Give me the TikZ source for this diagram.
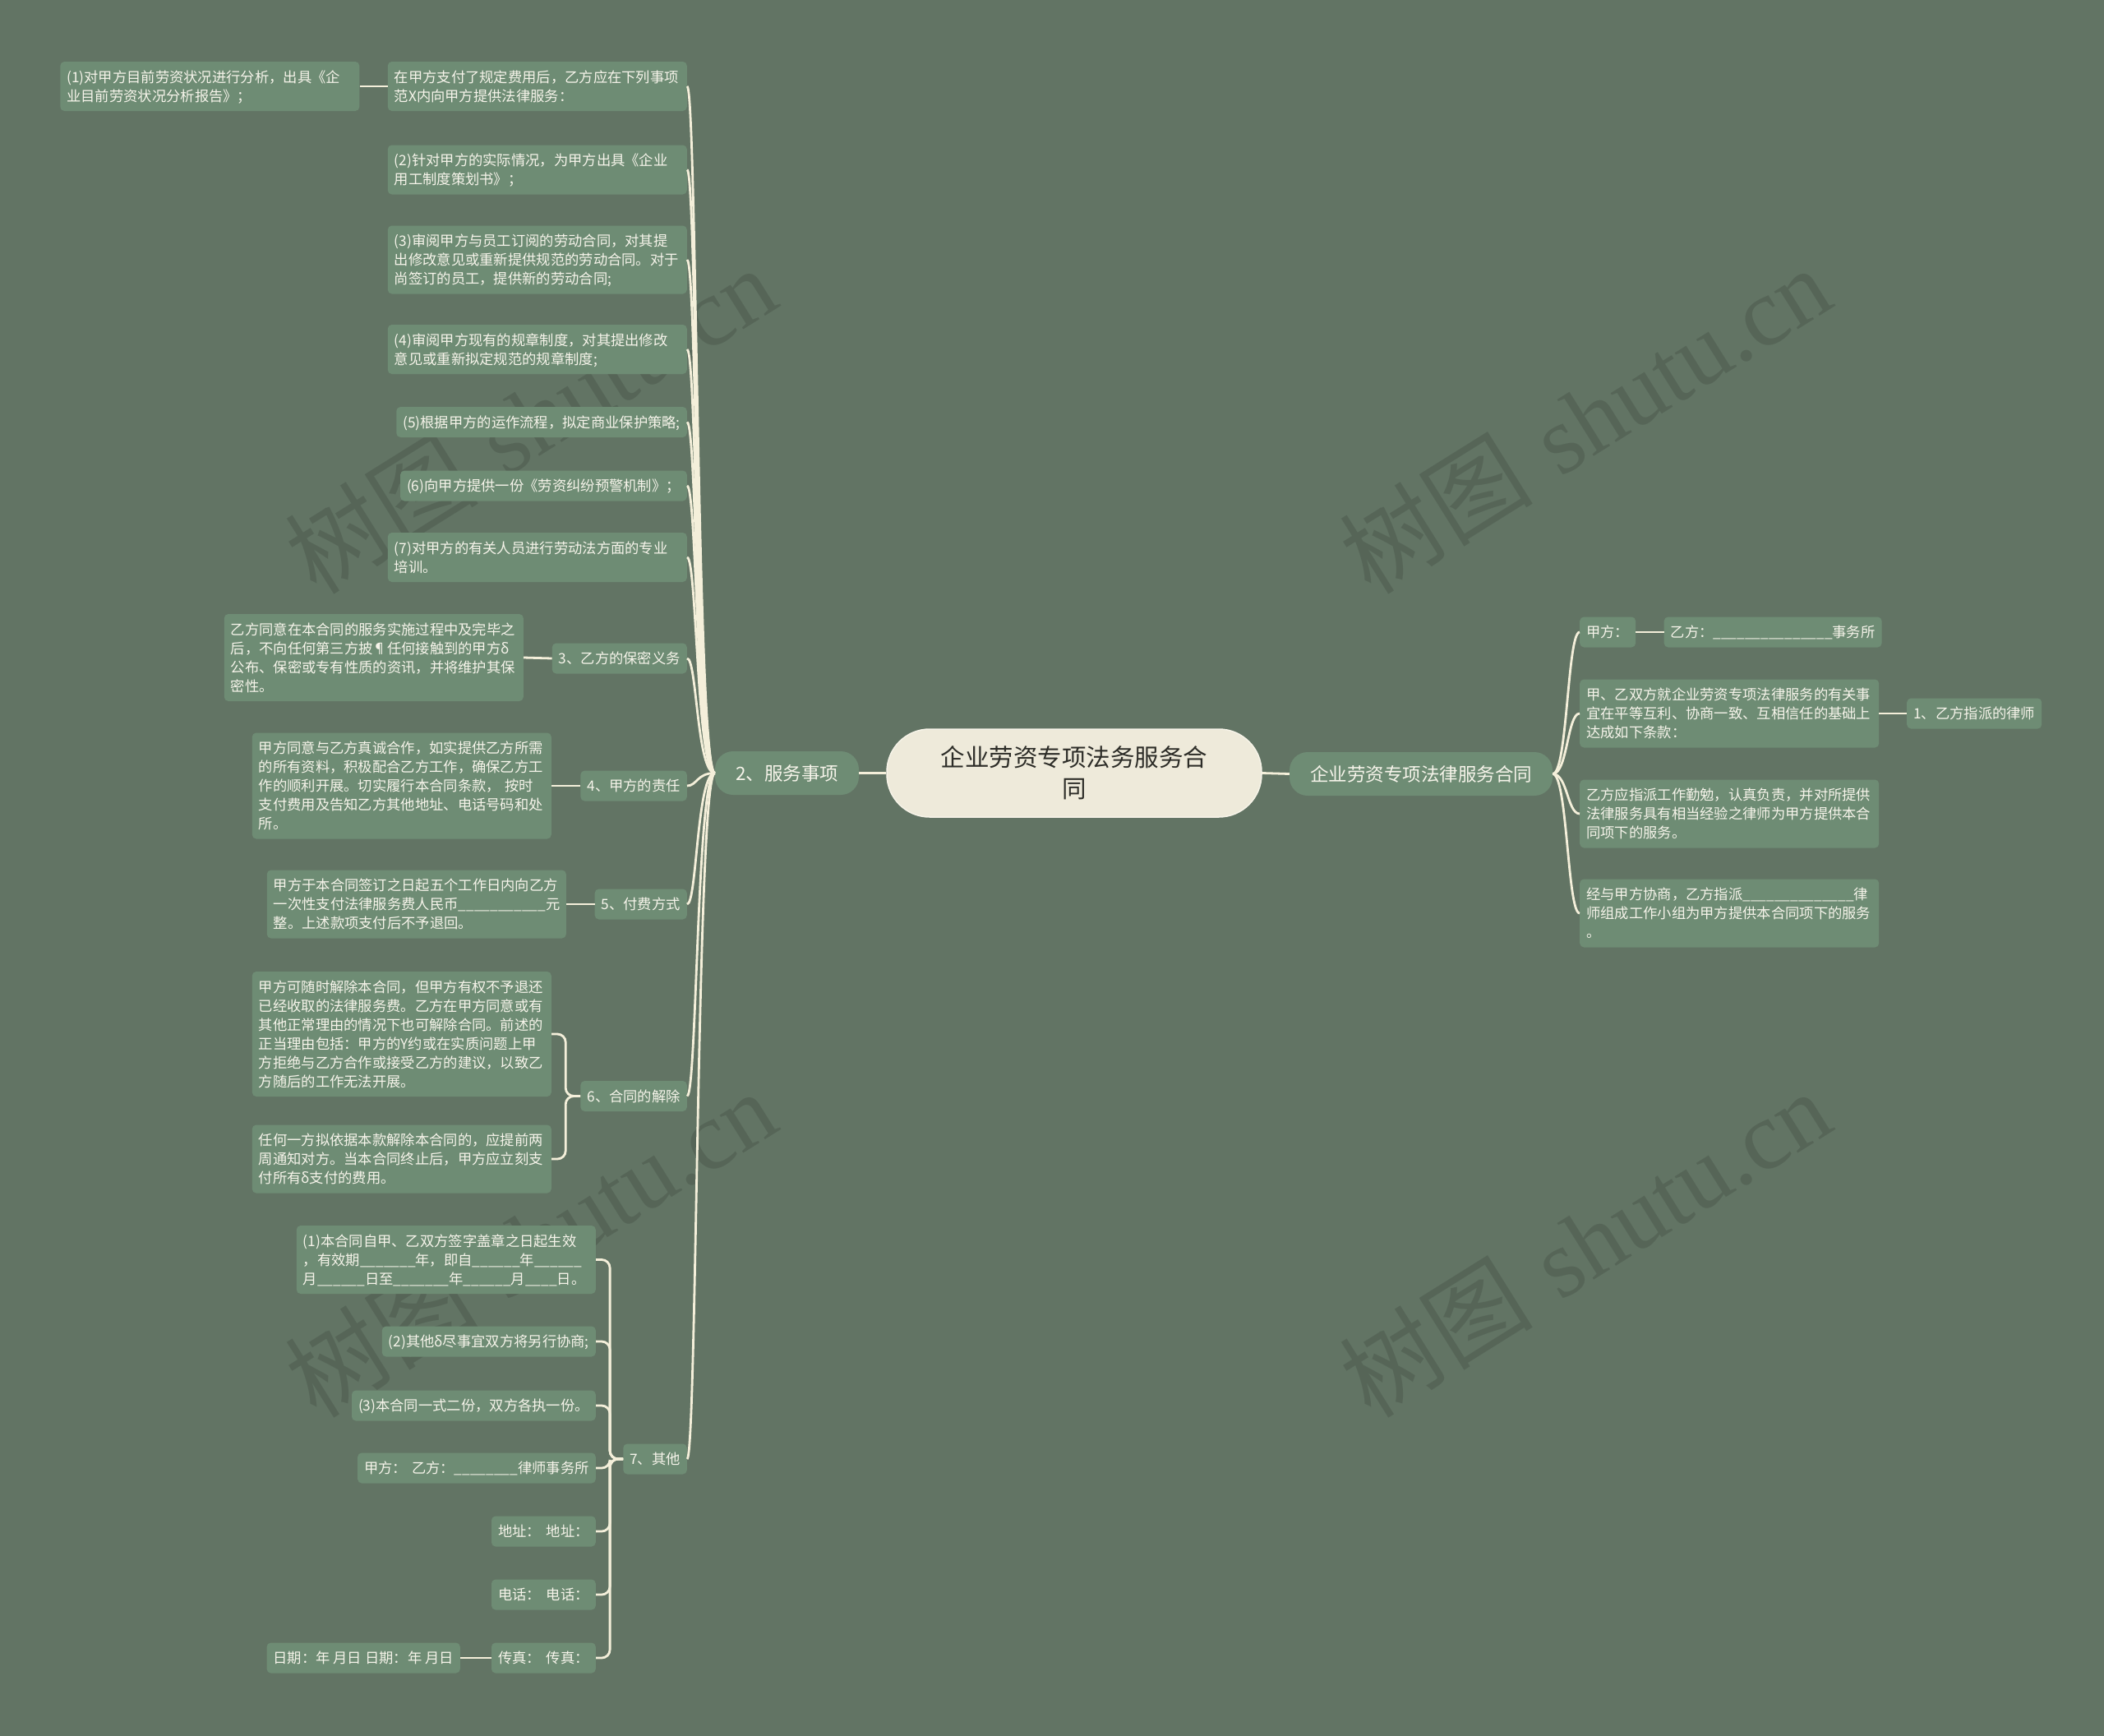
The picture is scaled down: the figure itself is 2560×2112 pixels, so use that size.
\documentclass[tikz,border=0pt]{standalone}
\usepackage{fontspec}
\newfontfamily\cjk{Noto Sans CJK SC}
\newfontfamily\wmserif{Liberation Serif}
\ExplSyntaxOn
\NewDocumentCommand\us{m}{\prg_replicate:nn {#1} {\textunderscore}}
\ExplSyntaxOff
\newcommand\lstrut{\rule[-4.6pt]{0pt}{23pt}}
\definecolor{bgc}{RGB}{98,116,100}
\definecolor{nfill}{RGB}{110,140,116}
\definecolor{ntext}{RGB}{246,244,234}
\definecolor{linec}{RGB}{244,239,218}
\definecolor{cfill}{RGB}{238,234,218}
\definecolor{cborder}{RGB}{246,243,232}
\definecolor{ctext}{RGB}{45,45,40}
\tikzset{
  conn/.style={draw=linec, line width=2.8pt},
  box/.style={fill=nfill, rounded corners=5pt, text=ntext, inner xsep=8pt, inner ysep=7pt, align=left,
    font=\cjk\fontsize{17.3}{23}\selectfont, execute at begin node=\lstrut, execute at end node=\lstrut},
  wbox/.style={box, text width=348pt},
  mainnode/.style={fill=nfill, rounded corners=22pt, text=ntext, inner xsep=25pt, minimum height=53pt,
    font=\cjk\fontsize{22.5}{28}\selectfont},
  rootnode/.style={fill=cfill, draw=cborder, line width=1.5pt, rounded corners=52pt, text=ctext, align=center,
    minimum width=456pt, minimum height=107pt, font=\cjk\fontsize{29.5}{38}\selectfont},
  wm/.style={text=black, opacity=0.12, font=\fontsize{118}{118}\selectfont, rotate=32, inner sep=0pt},
}
\newcommand\lc[2]{\draw[conn] (#1.west) .. controls +(-22,0) and +(12,0) .. (#2.east);}
\newcommand\rc[2]{\draw[conn] (#1.east) .. controls +(18,0) and +(-15,0) .. (#2.west);}
\begin{document}
\begin{tikzpicture}[x=1pt,y=-1pt]
\fill[bgc] (0,0) rectangle (2560,2112);
\useasboundingbox (0,0) rectangle (2560,2112);

% watermarks
\node[wm] (wm1) at (645,510) {{\cjk 树图} {\wmserif shutu.cn}};
\node[wm] (wm2) at (1928,510) {{\cjk 树图} {\wmserif shutu.cn}};
\node[wm] (wm3) at (645,1512) {{\cjk 树图} {\wmserif shutu.cn}};
\node[wm] (wm4) at (1928,1512) {{\cjk 树图} {\wmserif shutu.cn}};

% root and main branches
\node[rootnode] (C) at (1307,940.5) {企业劳资专项法务服务合\\同};
\node[mainnode] (A0) at (957.5,940.5) {2、服务事项};
\node[mainnode] (R0) at (1729,941.5) {企业劳资专项法律服务合同};

% left: service items
\node[wbox, anchor=east] (A1) at (836,105) {在甲方支付了规定费用后，乙方应在下列事项\\范X内向甲方提供法律服务：};
\node[wbox, anchor=east] (A1a) at (437.5,105) {(1)对甲方目前劳资状况进行分析，出具《企\\业目前劳资状况分析报告》；};
\node[wbox, anchor=east] (A2) at (836,206.5) {(2)针对甲方的实际情况，为甲方出具《企业\\用工制度策划书》；};
\node[wbox, anchor=east] (A3) at (836,316) {(3)审阅甲方与员工订阅的劳动合同，对其提\\出修改意见或重新提供规范的劳动合同。对于\\尚签订的员工，提供新的劳动合同;};
\node[wbox, anchor=east] (A4) at (836,425) {(4)审阅甲方现有的规章制度，对其提出修改\\意见或重新拟定规范的规章制度;};
\node[box, anchor=east] (A5) at (836,513.5) {(5)根据甲方的运作流程，拟定商业保护策略;};
\node[box, anchor=east] (A6) at (836,591) {(6)向甲方提供一份《劳资纠纷预警机制》；};
\node[wbox, anchor=east] (A7) at (836,678) {(7)对甲方的有关人员进行劳动法方面的专业\\培训。};

\node[box, anchor=east] (B3) at (836,801) {3、乙方的保密义务};
\node[wbox, anchor=east] (B3a) at (637,800) {乙方同意在本合同的服务实施过程中及完毕之\\后，不向任何第三方披¶任何接触到的甲方δ\\公布、保密或专有性质的资讯，并将维护其保\\密性。};
\node[box, anchor=east] (B4) at (836,956) {4、甲方的责任};
\node[wbox, anchor=east] (B4a) at (671,956) {甲方同意与乙方真诚合作，如实提供乙方所需\\的所有资料，积极配合乙方工作，确保乙方工\\作的顺利开展。切实履行本合同条款， 按时\\支付费用及告知乙方其他地址、电话号码和处\\所。};
\node[box, anchor=east] (B5) at (836,1100) {5、付费方式};
\node[wbox, anchor=east] (B5a) at (689,1100) {甲方于本合同签订之日起五个工作日内向乙方\\一次性支付法律服务费人民币\us{11}元\\整。上述款项支付后不予退回。};
\node[box, anchor=east] (B6) at (836,1333.5) {6、合同的解除};
\node[wbox, anchor=east] (B6a) at (671,1258) {甲方可随时解除本合同，但甲方有权不予退还\\已经收取的法律服务费。乙方在甲方同意或有\\其他正常理由的情况下也可解除合同。前述的\\正当理由包括：甲方的Y约或在实质问题上甲\\方拒绝与乙方合作或接受乙方的建议，以致乙\\方随后的工作无法开展。};
\node[wbox, anchor=east] (B6b) at (671,1410) {任何一方拟依据本款解除本合同的，应提前两\\周通知对方。当本合同终止后，甲方应立刻支\\付所有δ支付的费用。};
\node[box, anchor=east] (B7) at (836,1775) {7、其他};
\node[wbox, anchor=east] (B7a) at (725,1532.5) {(1)本合同自甲、乙双方签字盖章之日起生效\\，有效期\us{7}年，即自\us{6}年\us{6}\\月\us{6}日至\us{7}年\us{6}月\us{4}日。};
\node[box, anchor=east] (B7b) at (725,1632) {(2)其他δ尽事宜双方将另行协商;};
\node[box, anchor=east] (B7c) at (725,1710) {(3)本合同一式二份，双方各执一份。};
\node[box, anchor=east] (B7d) at (725,1786) {甲方：\hspace{6pt}乙方：\us{8}律师事务所};
\node[box, anchor=east] (B7e) at (725,1863) {地址：\hspace{7pt}地址：};
\node[box, anchor=east] (B7f) at (725,1940) {电话：\hspace{7pt}电话：};
\node[box, anchor=east] (B7g) at (725,2017) {传真：\hspace{7pt}传真：};
\node[box, anchor=east] (B7g1) at (560,2017) {日期：年 月日 日期：年 月日};

% right side
\node[box, anchor=west] (R1) at (1922,769) {甲方：};
\node[box, anchor=west] (R1a) at (2024.5,769) {乙方：\us{15}事务所};
\node[wbox, anchor=west] (R2) at (1922,868) {甲、乙双方就企业劳资专项法律服务的有关事\\宜在平等互利、协商一致、互相信任的基础上\\达成如下条款：};
\node[box, anchor=west] (R2a) at (2320,868) {1、乙方指派的律师};
\node[wbox, anchor=west] (R3) at (1922,990) {乙方应指派工作勤勉，认真负责，并对所提供\\法律服务具有相当经验之律师为甲方提供本合\\同项下的服务。};
\node[wbox, anchor=west] (R4) at (1922,1111) {经与甲方协商，乙方指派\us{14}律\\师组成工作小组为甲方提供本合同项下的服务\\。};

% connectors
\draw[conn] (C.west) -- (A0.east);
\draw[conn] (C.east) -- (R0.west);
\lc{A0}{A1} \lc{A0}{A2} \lc{A0}{A3} \lc{A0}{A4} \lc{A0}{A5} \lc{A0}{A6} \lc{A0}{A7}
\lc{A0}{B3} \lc{A0}{B4} \lc{A0}{B5} \lc{A0}{B6} \lc{A0}{B7}
\draw[conn] (A1.west) -- (A1a.east);
\draw[conn] (B3.west) -- (B3a.east);
\draw[conn] (B4.west) -- (B4a.east);
\draw[conn] (B5.west) -- (B5a.east);
\draw[conn] (B7g.west) -- (B7g1.east);
\foreach \c in {B6a,B6b}{\draw[conn, rounded corners=10pt] (B6.west) -- ++(-18,0) |- (\c.east);}
\foreach \c in {B7a,B7b,B7c,B7d,B7e,B7f,B7g}{\draw[conn, rounded corners=10pt] (B7.west) -- ++(-16,0) |- (\c.east);}
\rc{R0}{R1} \rc{R0}{R2} \rc{R0}{R3} \rc{R0}{R4}
\draw[conn] (R1.east) -- (R1a.west);
\draw[conn] (R2.east) -- (R2a.west);
\end{tikzpicture}
\end{document}
